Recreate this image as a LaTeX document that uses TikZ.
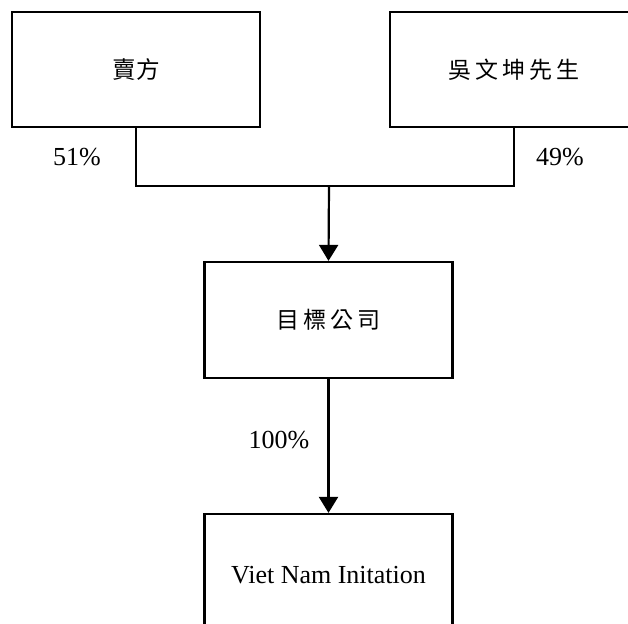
\documentclass[tikz,border=0pt]{standalone}
\usepackage{fontspec}
\setmainfont{Liberation Serif}
\newfontfamily\cjk{Noto Sans CJK TC}
\usetikzlibrary{arrows.meta}

\tikzset{
  holder/.style={draw,line width=1.1pt,minimum width=124pt,minimum height=57.5pt,inner sep=0pt},
  conn/.style={line width=1.1pt},
  arr/.style={line width=1.1pt,-{Triangle[length=8pt,width=9.5pt]}},
  pct/.style={font=\fontsize{13}{15}\selectfont}
}

\begin{document}
\begin{tikzpicture}[x=0.5pt,y=-0.5pt]
\clip (0,0) rectangle (628,624);
\node[holder,font=\cjk\fontsize{11.8}{14}\selectfont] (seller) at (136,69.5){賣方};
\node[holder,font=\cjk\fontsize{11.5}{14}\selectfont] (wu) at (514,69.5){吳\,文\,坤\,先\,生};
\node[holder,minimum height=58pt,font=\cjk\fontsize{11.5}{14}\selectfont] (target) at (328.5,320){目\,標\,公\,司};
\node[holder,minimum height=61pt,font=\fontsize{13}{15}\selectfont] (vni) at (328.5,575){Viet Nam Initation};
\coordinate (join) at (329,186);
\draw[conn] (seller.south) |- (join) -| (wu.south);
\draw[arr] (join) -- (target.north);
\draw[arr] (target.south) -- (vni.north);
\node[pct] at (77,157){51\%};
\node[pct] at (560,157){49\%};
\node[pct] at (279,440){100\%};
\end{tikzpicture}
\end{document}
